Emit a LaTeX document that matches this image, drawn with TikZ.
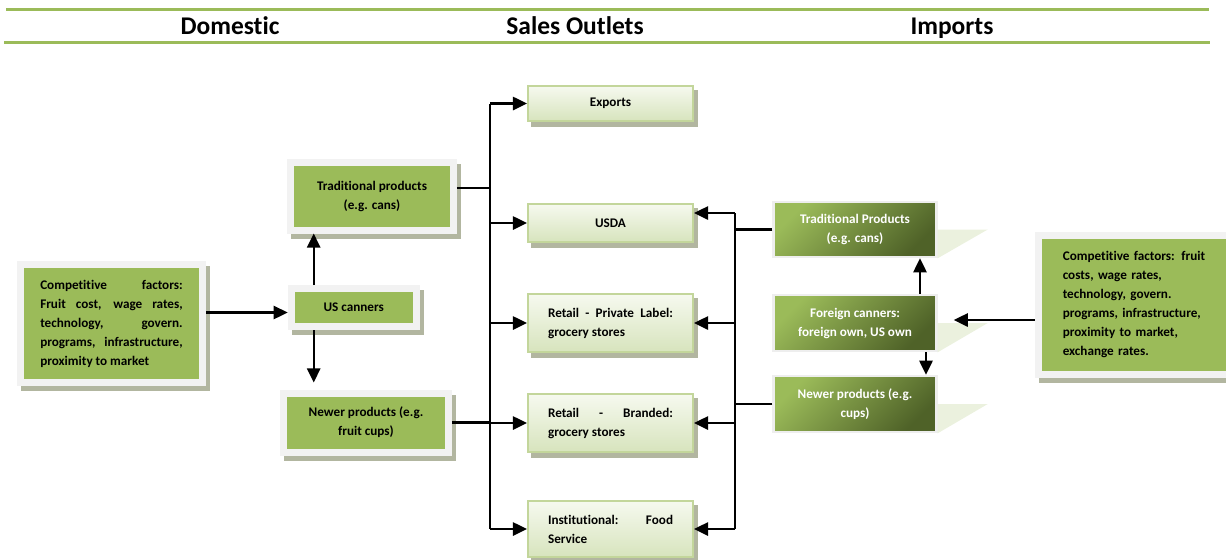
\documentclass[tikz,border=0pt]{standalone}
\usepackage{fontspec}
\setmainfont{Carlito}[Ligatures=NoCommon]
\usetikzlibrary{arrows.meta,shadows}
\definecolor{vertol}{HTML}{9BBB59}
\definecolor{vertfonce}{HTML}{4F6228}
\definecolor{vertpale}{HTML}{EBF1DE}
\definecolor{cadre}{HTML}{F2F2F2}
\definecolor{ombre}{HTML}{B2B6A0}
\definecolor{bordclair}{HTML}{C3D69B}
\definecolor{hautclair}{HTML}{F6F9EF}
\definecolor{basclair}{HTML}{D7E4BD}
\definecolor{cadreimp}{HTML}{EEEEEE}
\hyphenpenalty=10000

\begin{document}
\begin{tikzpicture}[x=0.02cm,y=-0.02cm,
  font=\bfseries\fontsize{7.5}{10.8}\selectfont,
  titre/.style={font=\bfseries\fontsize{14.5}{16}\selectfont,anchor=base},
  filet/.style={draw=vertol,line width=0.06cm},
  fleche/.style={line width=1.2pt,-{Triangle[length=8pt,width=7.5pt]}},
  trait/.style={line width=1.2pt},
  ombrage/.style={general shadow={fill=ombre,draw=ombre,shadow xshift=0.08cm,shadow yshift=-0.1cm}},
  dom/.style={ombrage,fill=vertol,draw=cadre,line width=0.14cm,inner sep=0pt,align=center},
  sortie/.style={ombrage,draw=bordclair,line width=0.04cm,top color=hautclair,bottom color=basclair,minimum width=3.3cm,inner sep=0pt,align=center},
  impbox/.style={draw=cadreimp,line width=0.05cm,top color=vertol,bottom color=vertfonce,shading angle=45,text=white,minimum width=3.26cm,inner sep=0pt,align=center},
  triombre/.style={fill=vertpale}]
\useasboundingbox (0,0) rectangle (1226,559);
\clip (0,0) rectangle (1226,559);

% en-tete
\draw[filet] (6,9) -- (1209,9);
\draw[filet] (4,42) -- (1210,42);
\node[titre] (hdom) at (230,34) {Domestic};
\node[titre] (hsales) at (575,34) {Sales Outlets};
\node[titre] (himp) at (952,34) {Imports};

% domestique
\node[dom,minimum width=3.66cm,minimum height=2.36cm,text width=2.85cm,align=justify] (fcdom) at (111.5,323.5)
  {Competitive factors:\linebreak Fruit cost, wage rates,\linebreak technology, govern.\linebreak programs, infrastructure,\linebreak proximity to market};
\node[dom,minimum width=2.5cm,minimum height=0.76cm] (uscan) at (353.7,307.5) {US canners};
\node[dom,minimum width=3.26cm,minimum height=1.36cm] (tradd) at (372,196) {Traditional products\\(e.g. cans)};
\node[dom,minimum width=3.3cm,minimum height=1.18cm] (newd) at (366,422.5) {Newer products (e.g.\\fruit cups)};

% sorties
\node[sortie,minimum height=0.7cm] (exp) at (610.5,103.5) {Exports};
\node[sortie,minimum height=0.76cm] (usda) at (610.5,223) {USDA};
\node[sortie,minimum height=1.16cm,text width=2.5cm,align=justify] (priv) at (610.5,323) {Retail - Private Label:\linebreak grocery stores};
\node[sortie,minimum height=1.16cm,text width=2.5cm,align=justify] (brand) at (610.5,423) {Retail - Branded:\linebreak grocery stores};
\node[sortie,minimum height=1.12cm,text width=2.5cm,align=justify] (inst) at (610.5,529) {Institutional: Food\linebreak Service};

% importations
\node[impbox,minimum height=1.1cm] (itrad) at (855,229.5) {Traditional Products\\(e.g. cans)};
\node[impbox,minimum height=1.12cm] (forn) at (855,323) {Foreign canners:\\foreign own, US own};
\node[impbox,minimum height=1.12cm] (inew) at (855,404) {Newer products (e.g.\\cups)};
\foreach \n in {itrad,forn,inew}
  \fill[triombre] (\n.east) -- ++(50,0) -- (\n.south east) -- cycle;
\node[dom,minimum width=3.84cm,minimum height=2.77cm,text width=2.85cm,align=left] (fcimp) at (1134,304.8)
  {Competitive factors: fruit\\costs, wage rates,\\technology, govern.\\programs, infrastructure,\\proximity to market,\\exchange rates.};

% fleches cote domestique
\coordinate (a1) at ([yshift=-0.1cm]uscan.west);
\draw[fleche] (a1 -| fcdom.east) -- (a1);
\coordinate (u1) at ([xshift=-0.8cm]uscan.north);
\draw[fleche] (u1) -- (u1 |- tradd.south);
\coordinate (u2) at ([xshift=-0.8cm]uscan.south);
\draw[fleche,shorten >=0.14cm] (u2) -- (u2 |- newd.north);

% bus de gauche
\coordinate (bg) at (490,0);
\coordinate (t1) at ([yshift=0.16cm]tradd.east);
\draw[trait] (bg |- exp.west) -- (bg |- inst.west);
\draw[trait] (t1) -- (t1 -| bg);
\draw[trait] (newd.east) -- (newd.east -| bg);
\foreach \n in {exp,usda,priv,brand,inst}
  \draw[fleche] (bg |- \n.west) -- (\n.west);

% bus de droite
\coordinate (bd) at (735,0);
\coordinate (ue) at ([yshift=0.2cm]usda.east);
\draw[trait] (bd |- ue) -- (bd |- inst.east);
\draw[fleche] (bd |- ue) -- (ue);
\foreach \n in {priv,brand,inst}
  \draw[fleche] (bd |- \n.east) -- (\n.east);
\draw[trait] (itrad.west) -- (itrad.west -| bd);
\draw[trait] (inew.west) -- (inew.west -| bd);

% fleches importations
\coordinate (f1) at ([xshift=1.3cm]forn.north);
\draw[fleche] (f1) -- (f1 |- itrad.south);
\coordinate (f2) at ([xshift=1.42cm]forn.south);
\draw[fleche] (f2) -- (f2 |- inew.north);
\coordinate (f3) at ([xshift=0.32cm,yshift=0.06cm]forn.east);
\draw[fleche] (fcimp.west |- f3) -- (f3);
\end{tikzpicture}
\end{document}
